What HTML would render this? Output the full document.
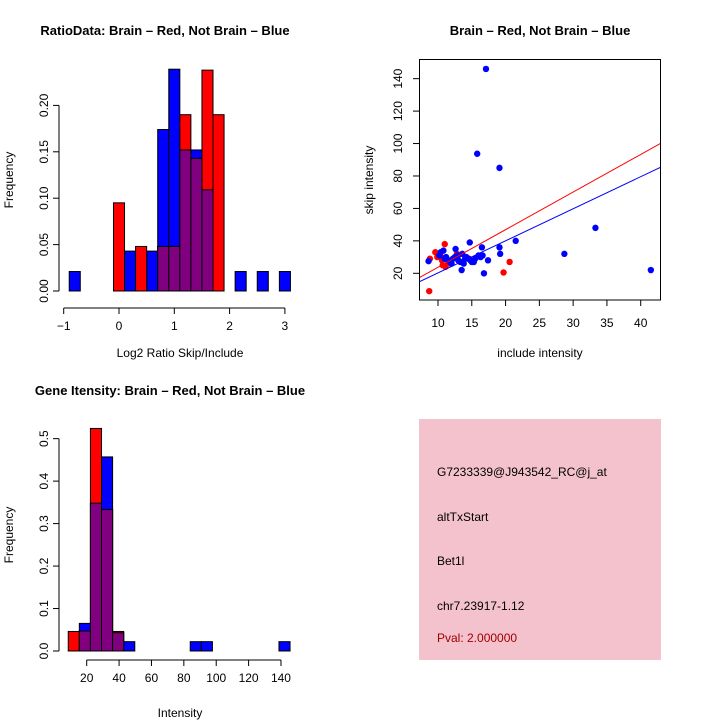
<!DOCTYPE html>
<html><head><meta charset="utf-8"><style>
html,body{margin:0;padding:0;background:#fff;}
svg{display:block;font-family:"Liberation Sans",sans-serif;}
</style></head><body>
<svg width="720" height="720" viewBox="0 0 720 720" xmlns="http://www.w3.org/2000/svg">
<g id="p1"></g>
<g id="p2"></g>
<g id="p3"></g>
<g>
<rect x="419" y="419" width="242" height="241" fill="#f4c2cd"/>
<text x="437" y="476" font-size="12" fill="#000">G7233339@J943542_RC@j_at</text>
<text x="437" y="521" font-size="12" fill="#000">altTxStart</text>
<text x="437" y="565" font-size="12" fill="#000">Bet1l</text>
<text x="437" y="610" font-size="12" fill="#000">chr7.23917-1.12</text>
<text x="437" y="642" font-size="12" fill="#a00000">Pval: 2.000000</text>
</g>
</svg>
<script>
// Histogram 1 data (bins width 0.2 starting at -0.9)
const ratioBinStart = -0.9;
const ratioBinWidth = 0.2;
const ratioBlue = [0.021,0,0,0,0,0.043,0,0.043,0.174,0.239,0.152,0.152,0.109,0,0,0.021,0,0.021,0,0.021];
const ratioRed  = [0,0,0,0,0.095,0,0.048,0,0.048,0.048,0.19,0.143,0.238,0.19,0,0,0,0,0,0];
const ratioXTicks = [-1,0,1,2,3];
const ratioYTicks = ["0.00","0.05","0.10","0.15","0.20"];
// Scatter data
const blueX = [17.1,15.8,19.1,33.3,28.7,41.5,21.5,14.7,19.1,19.2,17.4,16.8,16.5,13.5,12.6,8.6,10.8,10.4,11.2,11.8,12.2,12.9,13.3,13.8,14.2,14.8,15.2,15.5,16.0,16.3,12.0,13.0,14.0,15.0,11.5,12.5,13.6,14.5,15.3,16.6,10.2,11.0];
const blueY = [146,93.7,85,48,32,22,40,39,36,32,28,20,36,22,35,27.5,34,33,30,27,29,31,27,26,30,28,27,29,31,30,26,28,29,27,28,30,32,29,27,31,31,29];
const redX = [8.7,11.0,9.6,9.9,10.6,11.1,19.7,20.6,8.8,10.1,13,14.6,10.7,10.5,11.5,12.8];
const redY = [9,38,33,30,28,24,20.5,27,29,32,31,29,25,30,26,32];
const scatterXTicks = [10,15,20,25,30,35,40];
const scatterYTicks = [20,40,60,80,100,120,140];
const redLine = [0.54,2.318];
const blueLine = [0.5,1.977];
// Histogram 2 data
const intBinStart = 8.6;
const intBinWidth = 6.85;
const intBlue = [0,0.065,0.348,0.457,0.043,0.022,0,0,0,0,0,0.022,0.022,0,0,0,0,0,0,0.022];
const intRed  = [0.046,0.047,0.524,0.333,0.046,0,0,0,0,0,0,0,0,0,0,0,0,0,0,0];
const intXTicks = [20,40,60,80,100,120,140];
const intYTicks = ["0.0","0.1","0.2","0.3","0.4","0.5"];

const NS="http://www.w3.org/2000/svg";
function mk(parent,tag,attrs){const e=document.createElementNS(NS,tag);for(const k in attrs)e.setAttribute(k,attrs[k]);parent.appendChild(e);return e;}
function txt(parent,x,y,s,size,rot,anchor,weight){const t=mk(parent,'text',{x:x,y:y,'font-size':size,'text-anchor':anchor||'middle'});if(weight)t.setAttribute('font-weight',weight);if(rot)t.setAttribute('transform','rotate(-90 '+x+' '+y+')');t.textContent=s;return t;}

function histogram(g,o){
  const sx=v=>o.x0px+(v-o.x0)*o.kx, sy=v=>o.y0px-v*o.ky;
  o.blue.forEach((v,i)=>{if(v>0){const a=o.start+i*o.w;const r=mk(g,'rect',{x:sx(a),y:sy(v),width:o.w*o.kx,height:v*o.ky,fill:'#0000ff',stroke:'#000','stroke-width':1});
    
    }});
  o.red.forEach((v,i)=>{if(v>0){const a=o.start+i*o.w;const r=mk(g,'rect',{x:sx(a),y:sy(v),width:o.w*o.kx,height:v*o.ky,fill:'#ff0000',stroke:'#000','stroke-width':1});
    
    }});
  o.red.forEach((v,i)=>{const b=o.blue[i];if(v>0&&b>0){const m=Math.min(v,b);const a=o.start+i*o.w;const r=mk(g,'rect',{x:sx(a),y:sy(m),width:o.w*o.kx,height:m*o.ky,fill:'#800080',stroke:'#000','stroke-width':1});
    
    }});
  // x axis
  const xa=mk(g,'g',{});
  
  
  mk(xa,'line',{x1:sx(o.xt[0]),x2:sx(o.xt[o.xt.length-1]),y1:o.xaxY,y2:o.xaxY,stroke:'#000'});
  o.xt.forEach(v=>{mk(xa,'line',{x1:sx(v),x2:sx(v),y1:o.xaxY,y2:o.xaxY+6,stroke:'#000'});const t=txt(xa,sx(v),o.xaxY+22,String(v).replace('-','\u2212'),12);
    
    });
  const ya=mk(g,'g',{});
  
  
  const yv=o.yt.map(Number);
  mk(ya,'line',{x1:o.yaxX,x2:o.yaxX,y1:sy(yv[0]),y2:sy(yv[yv.length-1]),stroke:'#000'});
  o.yt.forEach(s=>{const v=Number(s);mk(ya,'line',{x1:o.yaxX-6,x2:o.yaxX,y1:sy(v),y2:sy(v),stroke:'#000'});const t=txt(ya,o.yaxX-11,sy(v),s,12,true);
    
    });
}

const g1=document.getElementById('p1');
const t1=txt(g1,165,35,'RatioData: Brain \u2013 Red, Not Brain \u2013 Blue',13,false,'middle','bold');


histogram(g1,{blue:ratioBlue,red:ratioRed,start:ratioBinStart,w:ratioBinWidth,x0:0,x0px:119,kx:55.3,y0px:291,ky:928,xt:ratioXTicks,yt:ratioYTicks,xaxY:308,yaxX:59});
const l1=txt(g1,180,357,'Log2 Ratio Skip/Include',12);


const l2=txt(g1,13,180,'Frequency',12,true);



const g3=document.getElementById('p3');
const t3=txt(g3,170,395,'Gene Itensity: Brain \u2013 Red, Not Brain \u2013 Blue',13,false,'middle','bold');


histogram(g3,{blue:intBlue,red:intRed,start:intBinStart,w:intBinWidth,x0:20,x0px:86.7,kx:1.619,y0px:651,ky:424.7,xt:intXTicks,yt:intYTicks,xaxY:660,yaxX:59});
const l3=txt(g3,180,717,'Intensity',12);


const l4=txt(g3,13,535,'Frequency',12,true);



// Scatter
const g2=document.getElementById('p2');
const ssx=v=>438+(v-10)*6.757, ssy=v=>273.3-(v-20)*1.622;
const t2=txt(g2,540,35,'Brain \u2013 Red, Not Brain \u2013 Blue',13,false,'middle','bold');


const clip=mk(g2,'clipPath',{id:'sc'});mk(clip,'rect',{x:419.5,y:59.5,width:241,height:240.5});
const pts=mk(g2,'g',{'clip-path':'url(#sc)'});
redX.forEach((x,i)=>{const c=mk(pts,'circle',{cx:ssx(x),cy:ssy(redY[i]),r:3.2,fill:'#ff0000'});
  
  });
blueX.forEach((x,i)=>{const c=mk(pts,'circle',{cx:ssx(x),cy:ssy(blueY[i]),r:3.2,fill:'#0000ff'});
  
  });
const xl=7.2, xr=43;
const rl=mk(pts,'line',{x1:ssx(xl),y1:ssy(redLine[0]+redLine[1]*xl),x2:ssx(xr),y2:ssy(redLine[0]+redLine[1]*xr),stroke:'#ff0000','stroke-width':1});


const bl=mk(pts,'line',{x1:ssx(xl),y1:ssy(blueLine[0]+blueLine[1]*xl),x2:ssx(xr),y2:ssy(blueLine[0]+blueLine[1]*xr),stroke:'#0000ff','stroke-width':1});


const box=mk(g2,'rect',{x:419.5,y:59.5,width:241,height:240.5,fill:'none',stroke:'#000'});


scatterXTicks.forEach(v=>{mk(g2,'line',{x1:ssx(v),x2:ssx(v),y1:300,y2:306,stroke:'#000'});const t=txt(g2,ssx(v),327,String(v),12);
  
  });
scatterYTicks.forEach(v=>{mk(g2,'line',{x1:413,x2:419.5,y1:ssy(v),y2:ssy(v),stroke:'#000'});const t=txt(g2,402,ssy(v),String(v),12,true);
  
  });
const l5=txt(g2,540,357,'include intensity',12);


const l6=txt(g2,373,180,'skip intensity',12,true);


</script>
</body></html>
